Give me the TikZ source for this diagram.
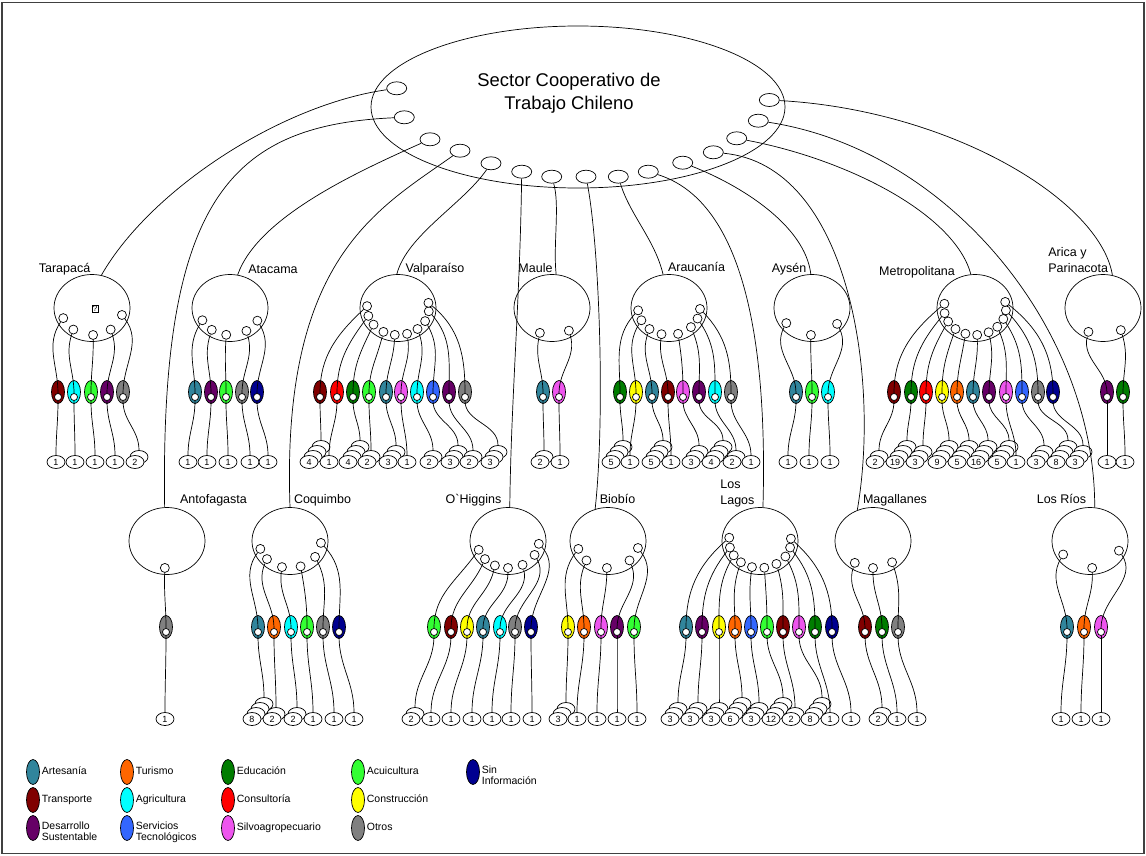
\documentclass[tikz,border=0pt]{standalone}
\usepackage{fontspec}
\setmainfont{Liberation Sans}
\usetikzlibrary{shapes.geometric,calc}

\definecolor{artesania}{HTML}{31859C}
\definecolor{turismo}{HTML}{FF6600}
\definecolor{educacion}{HTML}{007D00}
\definecolor{acuicultura}{HTML}{33FF33}
\definecolor{sininfo}{HTML}{000090}
\definecolor{transporte}{HTML}{800000}
\definecolor{agricultura}{HTML}{00FFFF}
\definecolor{consultoria}{HTML}{FF0000}
\definecolor{construccion}{HTML}{FFFF00}
\definecolor{dessust}{HTML}{660066}
\definecolor{servtec}{HTML}{3366FF}
\definecolor{silvo}{HTML}{EE55EE}
\definecolor{otros}{HTML}{808080}

% one branch: region, index, port angle, sector x, colour, count x, count
\newcommand{\branch}[7]{%
  \node[port] (#1-p#2) at ([shift={(#3:31pt and 27pt)}]#1.center) {};
  \node[sect, fill=#5] (#1-s#2) at (#4,\secy) {};
  \node[sdot] (#1-d#2) at (#4,\secy-5) {};
  \pgfmathtruncatemacro{\nback}{min(#7,4)-1}%
  \ifnum\nback>0
    \foreach \j in {\nback,...,1}
      \node[cnt] (#1-c#2-\j) at (#6+4*\j,\cnty+5*\j) {};
  \fi
  \node[cnt] (#1-c#2-0) at (#6,\cnty) {#7};
  \pgfmathsetmacro{\outang}{(#3+270)/2}%
  \draw (#1-p#2) to[out=\outang,in=90] (#1-d#2);
  \draw (#1-d#2) to[out=-90,in=90] (#1-c#2-\nback);
}

\begin{document}
\begin{tikzpicture}[x=1pt,y=1pt,line width=0.7pt,
  hub/.style={draw,ellipse,minimum width=414pt,minimum height=162pt,inner sep=0pt},
  hubport/.style={draw,ellipse,fill=white,minimum width=20pt,minimum height=13pt,inner sep=0pt},
  region/.style={draw,ellipse,minimum width=76pt,minimum height=67pt,inner sep=0pt},
  port/.style={draw,circle,fill=white,minimum size=9pt,inner sep=0pt},
  sect/.style={draw,ellipse,minimum width=13pt,minimum height=23pt,inner sep=0pt},
  sdot/.style={draw,circle,fill=white,minimum size=7pt,inner sep=0pt},
  cnt/.style={draw,ellipse,fill=white,minimum width=18pt,minimum height=13pt,inner sep=0pt,font=\fontsize{9}{9}\selectfont},
  lbl/.style={inner sep=0pt,align=left,font=\fontsize{12.5}{16}\selectfont},
  key/.style={draw,ellipse,minimum width=13pt,minimum height=25pt,inner sep=0pt},
  keytext/.style={inner sep=0pt,align=left,font=\fontsize{10.5}{11}\selectfont}]

  \useasboundingbox (0,0) rectangle (1146,-856);
  \draw[line width=1.5pt,black!75] (2,-2.5) rectangle (1144,-853.5);

  % the cooperative sector and its fifteen ports
  \node[hub] (coop) at (578,-107) {};
  \node[inner sep=0pt,align=center,anchor=north,font=\fontsize{18.4}{23.3}\selectfont] (coop-title) at (569,-72.5) {Sector Cooperativo de\\Trabajo Chileno};
  \foreach \x/\y [count=\i] in {396.7/88.3, 404.3/117.3, 430/139.3, 460/150.7, 491/163.3,
      521.7/171.7, 551.7/176.7, 586/176.7, 618.3/176.7, 648.3/171.7,
      682.7/162.7, 713.3/152.3, 736.7/138.3, 758.3/120.7, 769.3/100}
    \node[hubport] (m\i) at (\x,-\y) {};

  %%% upper row
  \def\secy{-392}\def\cnty{-462}

  \node[region] (tarapaca) at (92,-308) {};
  \node[lbl,anchor=base] (tarapaca-lbl) at (64.5,-272) {Tarapacá};
  \node[draw,line width=0.4pt,inner sep=0.8pt,font=\fontsize{8}{8}\selectfont] (tarapaca-q) at (95,-309) {?};
  \foreach \ang/\sx/\col/\cx/\n [count=\i] in {202/58/transporte/56/1, 233/74/agricultura/75/1,
      272/91/acuicultura/95/1, 307/107/dessust/115/1, 345/123/otros/135/2}
    {\branch{tarapaca}{\i}{\ang}{\sx}{\col}{\cx}{\n}}

  \node[region] (atacama) at (230,-308) {};
  \node[lbl,anchor=base] (atacama-lbl) at (273,-273) {Atacama};
  \foreach \ang/\sx/\col/\cx/\n [count=\i] in {207/195/artesania/188/1, 234/211/dessust/207/1,
      263/226/acuicultura/228/1, 302/242/otros/250/1, 332/257/sininfo/268/1}
    {\branch{atacama}{\i}{\ang}{\sx}{\col}{\cx}{\n}}

  \node[region] (valparaiso) at (398,-308) {};
  \node[lbl,anchor=base] (valparaiso-lbl) at (435,-272) {Valparaíso};
  \foreach \ang/\sx/\col/\cx/\n [count=\i] in {176/320/transporte/309/4, 197/337/consultoria/329/1,
      218/353/educacion/348/4, 242/369/acuicultura/367/2, 264/386/artesania/388/3,
      287/401/silvo/407/1, 309/417/agricultura/429/2, 331/433/servtec/450/3,
      353/449/dessust/469/2, 371/465/otros/490/3}
    {\branch{valparaiso}{\i}{\ang}{\sx}{\col}{\cx}{\n}}

  \node[region] (maule) at (552,-308) {};
  \node[lbl,anchor=base] (maule-lbl) at (535.5,-272) {Maule};
  \foreach \ang/\sx/\col/\cx/\n [count=\i] in {247/543/artesania/540/2, 303/559/silvo/560/1}
    {\branch{maule}{\i}{\ang}{\sx}{\col}{\cx}{\n}}

  \node[region] (araucania) at (669,-308) {};
  \node[lbl,anchor=base] (araucania-lbl) at (696.5,-271) {Araucanía};
  \foreach \ang/\sx/\col/\cx/\n [count=\i] in {185/620/educacion/611/5, 207/636/construccion/630/1,
      231/652/artesania/651/5, 256/668/transporte/671/1, 287/683/silvo/691/3,
      315/699/dessust/711/4, 337/715/agricultura/732/2, 358/731/otros/751/1}
    {\branch{araucania}{\i}{\ang}{\sx}{\col}{\cx}{\n}}

  \node[region] (aysen) at (812,-308) {};
  \node[lbl,anchor=base] (aysen-lbl) at (789,-272.5) {Aysén};
  \foreach \ang/\sx/\col/\cx/\n [count=\i] in {214/796/artesania/788/1, 268/812/acuicultura/809/1,
      324/828/agricultura/830/1}
    {\branch{aysen}{\i}{\ang}{\sx}{\col}{\cx}{\n}}

  \node[region] (metropolitana) at (975,-308) {};
  \node[lbl,anchor=base] (metropolitana-lbl) at (917,-275) {Metropolitana};
  \foreach \ang/\sx/\col/\cx/\n [count=\i] in {171/894/transporte/875/2, 191/911/educacion/895/19,
      210/926/consultoria/915/3, 231/942/construccion/937/9, 252/957/turismo/957/5,
      274/973/artesania/976/16, 296/989/dessust/997/5, 316/1006/silvo/1016/1,
      336/1022/servtec/1036/3, 355/1038/otros/1056/8, 373/1053/sininfo/1075/3}
    {\branch{metropolitana}{\i}{\ang}{\sx}{\col}{\cx}{\n}}

  \node[region] (arica) at (1103,-308) {};
  \node[lbl,anchor=north west] (arica-lbl) at (1048,-247) {Arica y\\Parinacota};
  \foreach \ang/\sx/\col/\cx/\n [count=\i] in {242/1107/dessust/1107/1, 305/1123/educacion/1125/1}
    {\branch{arica}{\i}{\ang}{\sx}{\col}{\cx}{\n}}

  %%% lower row
  \def\secy{-627}\def\cnty{-719}

  \node[region] (antofagasta) at (167,-541) {};
  \node[lbl,anchor=base] (antofagasta-lbl) at (213.5,-503) {Antofagasta};
  \foreach \ang/\sx/\col/\cx/\n [count=\i] in {266/166/otros/165/1}
    {\branch{antofagasta}{\i}{\ang}{\sx}{\col}{\cx}{\n}}

  \node[region] (coquimbo) at (290,-541) {};
  \node[lbl,anchor=base] (coquimbo-lbl) at (322.5,-503) {Coquimbo};
  \foreach \ang/\sx/\col/\cx/\n [count=\i] in {197/258/artesania/252/8, 222/274/turismo/272/2,
      255/291/agricultura/293/2, 290/307/acuicultura/313/1, 324/323/otros/334/1,
      356/339/sininfo/354/1}
    {\branch{coquimbo}{\i}{\ang}{\sx}{\col}{\cx}{\n}}

  \node[region] (ohiggins) at (508,-541) {};
  \node[lbl,anchor=base] (ohiggins-lbl) at (473.5,-503) {O\textasciigrave{}Higgins};
  \foreach \ang/\sx/\col/\cx/\n [count=\i] in {199/434/acuicultura/411/2, 222/451/transporte/431/1,
      245/467/construccion/451/1, 270/483/artesania/472/1, 298/500/agricultura/492/1,
      329/515/otros/511/1, 354/531/sininfo/532/1}
    {\branch{ohiggins}{\i}{\ang}{\sx}{\col}{\cx}{\n}}

  \node[region] (biobio) at (608,-541) {};
  \node[lbl,anchor=base] (biobio-lbl) at (617.5,-503) {Biobío};
  \foreach \ang/\sx/\col/\cx/\n [count=\i] in {197/568/construccion/558/3, 226/584/turismo/577/1,
      268/601/silvo/597/1, 314/617/dessust/617/1, 345/634/acuicultura/637/1}
    {\branch{biobio}{\i}{\ang}{\sx}{\col}{\cx}{\n}}

  \node[region] (loslagos) at (760,-541) {};
  \node[lbl,anchor=north west] (loslagos-lbl) at (720,-480) {Los\\Lagos};
  \foreach \ang/\sx/\col/\cx/\n [count=\i] in {173/686/artesania/670/3, 194/702/dessust/690/3,
      212/719/construccion/711/3, 232/735/turismo/730/6, 255/751/servtec/751/3,
      278/767/acuicultura/771/12, 302/783/transporte/791/2, 325/799/silvo/810/8,
      346/815/educacion/830/1, 365/832/sininfo/851/1}
    {\branch{loslagos}{\i}{\ang}{\sx}{\col}{\cx}{\n}}

  \node[region] (magallanes) at (873,-541) {};
  \node[lbl,anchor=base] (magallanes-lbl) at (895,-503) {Magallanes};
  \foreach \ang/\sx/\col/\cx/\n [count=\i] in {234/865/transporte/878/2, 270/882/educacion/897/1,
      308/898/otros/917/1}
    {\branch{magallanes}{\i}{\ang}{\sx}{\col}{\cx}{\n}}

  \node[region] (losrios) at (1090,-541) {};
  \node[lbl,anchor=base] (losrios-lbl) at (1061.5,-503) {Los Ríos};
  \foreach \ang/\sx/\col/\cx/\n [count=\i] in {210/1067/artesania/1061/1, 274/1084/turismo/1081/1,
      339/1101/silvo/1101/1}
    {\branch{losrios}{\i}{\ang}{\sx}{\col}{\cx}{\n}}

  % links from the cooperative sector down to each region
  \draw (m1) .. controls (280,-105) and (150,-190) .. (tarapaca.74);
  \draw (m2) .. controls (230,-125) and (160,-200) .. (antofagasta.94);
  \draw (m3) .. controls (357,-172) and (258,-217) .. (atacama.77);
  \draw (m4) .. controls (378,-209) and (281,-258) .. (coquimbo.90);
  \draw (m5) .. controls (463,-204) and (407,-235) .. (valparaiso.92);
  \draw (m6) .. controls (520,-300) and (511,-400) .. (ohiggins.87);
  \draw (m7) .. controls (560,-205) and (553,-245) .. (maule.83);
  \draw (m8) .. controls (600,-250) and (605,-420) .. (biobio.112);
  \draw (m9) .. controls (630,-215) and (655,-240) .. (araucania.100);
  \draw (m10) .. controls (740,-200) and (768,-330) .. (loslagos.85);
  \draw (m11) .. controls (740,-185) and (805,-225) .. (aysen.92);
  \draw (m12) .. controls (850,-165) and (880,-380) .. (magallanes.117);
  \draw (m13) .. controls (850,-160) and (955,-215) .. (metropolitana.97);
  \draw (m14) .. controls (950,-150) and (1095,-330) .. (losrios.82);
  \draw (m15) .. controls (950,-110) and (1100,-200) .. (arica.74);

  % legend
  \foreach \col/\x/\y in {artesania/33/772, turismo/127/772, educacion/228/772, acuicultura/358/772,
      sininfo/473/772, transporte/33/800, agricultura/127/800, consultoria/228/800,
      construccion/358/800, dessust/33/828, servtec/127/828, silvo/228/828, otros/358/828}
    \node[key,fill=\col] (key-\col) at (\x,-\y) {};
  \node[keytext,anchor=base west] (key-artesania-txt) at (41.5,-774.3) {Artesanía};
  \node[keytext,anchor=base west] (key-turismo-txt) at (135.5,-774.3) {Turismo};
  \node[keytext,anchor=base west] (key-educacion-txt) at (236.5,-774.3) {Educación};
  \node[keytext,anchor=base west] (key-acuicultura-txt) at (366.5,-774.3) {Acuicultura};
  \node[keytext,anchor=north west] (key-sininfo-txt) at (481.5,-765.5) {Sin\\Información};
  \node[keytext,anchor=base west] (key-transporte-txt) at (41.5,-802.7) {Transporte};
  \node[keytext,anchor=base west] (key-agricultura-txt) at (135.5,-802.7) {Agricultura};
  \node[keytext,anchor=base west] (key-consultoria-txt) at (236.5,-802.7) {Consultoría};
  \node[keytext,anchor=base west] (key-construccion-txt) at (366.5,-802.7) {Construcción};
  \node[keytext,anchor=north west] (key-dessust-txt) at (41.5,-822) {Desarrollo\\Sustentable};
  \node[keytext,anchor=north west] (key-servtec-txt) at (135.5,-822) {Servicios\\Tecnológicos};
  \node[keytext,anchor=base west] (key-silvo-txt) at (236.5,-830) {Silvoagropecuario};
  \node[keytext,anchor=base west] (key-otros-txt) at (366.5,-830) {Otros};
\end{tikzpicture}
\end{document}
